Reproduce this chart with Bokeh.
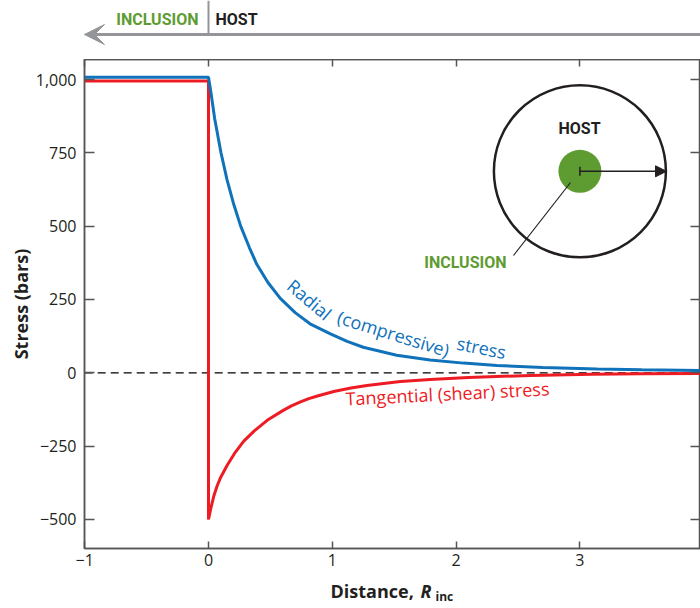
import math
from bokeh.plotting import figure
from bokeh.layouts import column
from bokeh.models import (Range1d, LinearAxis, FixedTicker, CustomJSTickFormatter,
                          Label, Arrow, VeeHead, NormalHead, TeeHead)
from bokeh.embed import file_html
from bokeh.resources import INLINE

# ---------------- data ----------------
radial_x = [-1, 0, 0.02, 0.05, 0.1, 0.15, 0.2, 0.26, 0.33, 0.39, 0.48, 0.58, 0.7, 0.82,
            0.985, 1.12, 1.25, 1.52, 1.79, 2.06, 2.33, 2.7, 3.14, 3.5, 4.0]
radial_y = [1008, 1008, 955, 866, 752, 658, 580, 500, 427, 370, 308, 254, 205, 167,
            133, 107, 87, 60, 44, 33, 25, 18, 13, 10, 8]

tangential_x = [-1, 0, 0, 0.02, 0.043, 0.07, 0.1, 0.151, 0.21, 0.285, 0.37, 0.474, 0.6,
                0.67, 0.743, 0.81, 0.88, 1.012, 1.15, 1.28, 1.55, 1.79, 2.1, 2.6, 3.1,
                3.5, 4.0]
tangential_y = [995, 995, -500, -460, -420, -385, -355, -315, -275, -233, -198, -162, -129,
                -113, -99, -88, -79, -64, -52, -43, -30, -23, -16, -9, -5,
                -3, -2]

zero_x = [-1, 4]
zero_y = [0, 0]

x_ticks = [-1, 0, 1, 2, 3, 4]
y_ticks = [-500, -250, 0, 250, 500, 750, 1000]

# ---------------- styling ----------------
BLUE = "#1072BA"
RED = "#ED1C24"
GREEN = "#5E9C32"
GRAY = "#939598"
DARK = "#231F20"
AXIS = "#555555"
FONT = "Open Sans"
COND = "Roboto"

W = 700
BANNER_H = 59
BOTTOM_B = 28
MAIN_H = 489 + BOTTOM_B
FOOTER_H = 608 - BANNER_H - MAIN_H

# pixel -> data helpers (annotation placement only)
X0, XS = 208.0, 123.8
Y0, YS = 372.3, 0.2933
def dx(px):
    return (px - X0) / XS
def dy(py):
    return (Y0 - py) / YS

xr = Range1d(dx(84), dx(700))

# ---------------- banner figure ----------------
banner = figure(width=W, height=BANNER_H, output_backend="svg", toolbar_location=None,
                x_range=xr, y_range=Range1d(BANNER_H, 0),
                x_axis_type=None, y_axis_type=None,
                min_border_left=84, min_border_right=0, min_border_top=0, min_border_bottom=0)
banner.outline_line_color = None
banner.grid.visible = False
banner.add_layout(Arrow(x_start=dx(700), y_start=34, x_end=dx(84), y_end=34,
                        line_color=GRAY, line_width=3,
                        end=VeeHead(size=20, fill_color=GRAY, line_color=GRAY)))
banner.add_layout(Arrow(x_start=0, y_start=0, x_end=0, y_end=34,
                        line_color=GRAY, line_width=2, end=None))
banner.add_layout(Label(x=dx(198), y=18.5, text="INCLUSION", text_align="right",
                        text_baseline="middle", text_font=COND, text_font_style="bold",
                        text_font_size="16px", text_color=GREEN))
banner.add_layout(Label(x=dx(215), y=18.5, text="HOST", text_align="left",
                        text_baseline="middle", text_font=COND, text_font_style="bold",
                        text_font_size="16px", text_color=DARK))

# ---------------- main figure ----------------
p = figure(width=W, height=MAIN_H, output_backend="svg", toolbar_location=None,
           x_range=xr, y_range=Range1d(dy(548), dy(59)),
           x_axis_type=None, y_axis_type=None,
           min_border_left=84, min_border_right=0, min_border_top=0,
           min_border_bottom=BOTTOM_B)
p.background_fill_color = "white"
p.border_fill_color = "white"
p.outline_line_color = AXIS
p.outline_line_width = 1.5

fmt = CustomJSTickFormatter(code="""
    const s = Math.abs(tick).toLocaleString('en-US');
    return tick < 0 ? '\u2212' + s : s;
""")

def style_axis(ax, tick_in, show_labels=True):
    ax.axis_line_color = AXIS
    ax.axis_line_width = 1.5
    ax.major_tick_line_color = AXIS
    ax.major_tick_line_width = 1.5
    ax.major_tick_in = tick_in
    ax.major_tick_out = 0
    ax.minor_tick_line_color = None
    ax.formatter = fmt
    if show_labels:
        ax.major_label_text_font = FONT
        ax.major_label_text_font_size = "16px"
        ax.major_label_text_color = DARK
    else:
        ax.major_label_text_font_size = "0px"
        ax.major_label_standoff = 0
        ax.major_label_text_alpha = 0

xb = LinearAxis(ticker=FixedTicker(ticks=x_ticks))
style_axis(xb, 7)
xb.major_label_standoff = 5
p.add_layout(xb, "below")

yl = LinearAxis(ticker=FixedTicker(ticks=y_ticks))
style_axis(yl, 10)
yl.major_label_standoff = 8
yl.axis_label = "Stress (bars)"
yl.axis_label_text_font = FONT
yl.axis_label_text_font_style = "bold"
yl.axis_label_text_font_size = "18px"
yl.axis_label_text_color = DARK
yl.axis_label_standoff = 0
p.add_layout(yl, "left")

xt = LinearAxis(ticker=FixedTicker(ticks=x_ticks))
style_axis(xt, 7, show_labels=False)
p.add_layout(xt, "above")

yr = LinearAxis(ticker=FixedTicker(ticks=y_ticks))
style_axis(yr, 10, show_labels=False)
p.add_layout(yr, "right")

# curves
p.line(zero_x, zero_y, line_color="black", line_width=1.3, line_dash="8 5")
p.line(tangential_x, tangential_y, line_color=RED, line_width=3)
p.line(radial_x, radial_y, line_color=BLUE, line_width=3)

# curve labels
for txt, cx, cy, ang in [("Radial", 309, 299, -0.70),
                         ("(compressive)", 393, 333, -0.30),
                         ("stress", 481, 347, -0.20)]:
    p.add_layout(Label(x=dx(cx), y=dy(cy), text=txt, angle=ang,
                       text_align="center", text_baseline="middle",
                       text_font=FONT, text_font_size="18px", text_color=BLUE))
p.add_layout(Label(x=dx(447), y=dy(393), text="Tangential (shear) stress", angle=0.05,
                   text_align="center", text_baseline="middle",
                   text_font=FONT, text_font_size="18px", text_color=RED))

# inset diagram
p.scatter([3.0], [687], size=172, marker="circle", fill_color=None,
          line_color=DARK, line_width=2.5)
p.scatter([3.0], [687], size=43, marker="circle", fill_color=GREEN, line_color=None)
p.add_layout(Arrow(x_start=3.0, y_start=687, x_end=dx(666), y_end=687,
                   line_color=DARK, line_width=1.5,
                   start=TeeHead(size=9, line_color=DARK, line_width=1.5),
                   end=NormalHead(size=11, fill_color=DARK, line_color=DARK)))
p.add_layout(Arrow(x_start=dx(570), y_start=dy(182), x_end=dx(513), y_end=dy(255),
                   line_color=DARK, line_width=1.2, end=None))
p.add_layout(Label(x=dx(579), y=dy(128), text="HOST", text_align="center",
                   text_baseline="middle", text_font=COND, text_font_style="bold",
                   text_font_size="16px", text_color=DARK))
p.add_layout(Label(x=dx(506), y=dy(262), text="INCLUSION", text_align="right",
                   text_baseline="middle", text_font=COND, text_font_style="bold",
                   text_font_size="16px", text_color=GREEN))

# ---------------- footer figure (x-axis title) ----------------
FOOT_TOP = BANNER_H + MAIN_H
footer = figure(width=W, height=FOOTER_H, output_backend="svg", toolbar_location=None,
                x_range=xr, y_range=Range1d(FOOTER_H, 0),
                x_axis_type=None, y_axis_type=None,
                min_border_left=84, min_border_right=0, min_border_top=0, min_border_bottom=0)
footer.outline_line_color = None
footer.grid.visible = False
footer.add_layout(Label(x=dx(330), y=590 - FOOT_TOP, text="Distance,", text_align="left",
                        text_baseline="middle", text_font=FONT, text_font_style="bold",
                        text_font_size="18px", text_color=DARK))
footer.add_layout(Label(x=dx(420), y=590 - FOOT_TOP, text="R", text_align="left",
                        text_baseline="middle", text_font=FONT,
                        text_font_style="bold italic", text_font_size="18px", text_color=DARK))
footer.add_layout(Label(x=dx(435), y=596 - FOOT_TOP, text="inc", text_align="left",
                        text_baseline="middle", text_font=FONT, text_font_style="bold",
                        text_font_size="12px", text_color=DARK))

layout = column(banner, p, footer, spacing=0)
open("out.html", "w").write(file_html(layout, INLINE))
